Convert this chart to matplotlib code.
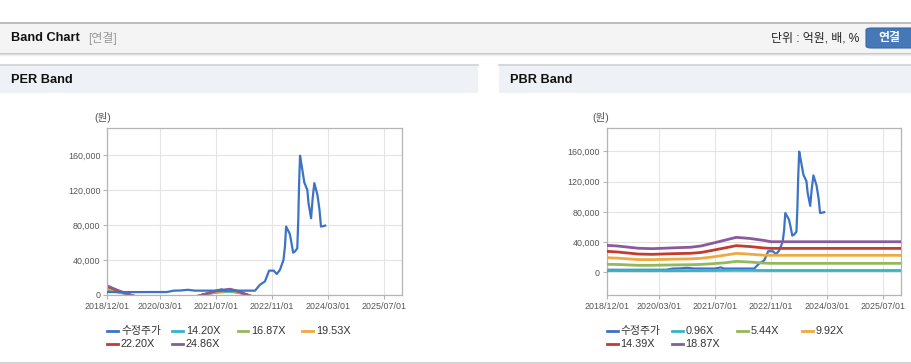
import numpy as np
import pandas as pd
import matplotlib
matplotlib.use('Agg')
import matplotlib.pyplot as plt
import matplotlib.dates as mdates
from matplotlib.patches import Rectangle, FancyBboxPatch
from matplotlib.lines import Line2D
from matplotlib.ticker import FuncFormatter

plt.rcParams['font.family'] = ['Liberation Sans', 'Noto Sans CJK KR', 'DejaVu Sans']

W, H = 912, 364

# 수정주가 (adjusted price)
price_dates = ['2018-12-01', '2019-06-01', '2019-12-01', '2020-05-01', '2020-07-01',
               '2020-09-01', '2020-11-01', '2021-01-01', '2021-07-01', '2021-08-20',
               '2021-09-15', '2022-06-07', '2022-07-20', '2022-09-01', '2022-10-07',
               '2022-11-15', '2022-12-13', '2023-01-10', '2023-02-09', '2023-02-22',
               '2023-03-04', '2023-04-05', '2023-04-20', '2023-05-04', '2023-05-20',
               '2023-06-09', '2023-06-18', '2023-06-24', '2023-07-03', '2023-07-16',
               '2023-08-09', '2023-09-04', '2023-09-15', '2023-10-07', '2023-10-20',
               '2023-11-04', '2023-12-01', '2023-12-19', '2024-01-01', '2024-01-22',
               '2024-02-06']
price = [3400, 3300, 3400, 3400, 5000,
         5200, 6000, 5000, 5000, 6500,
         5000, 5000, 11800, 15600, 27900,
         28000, 24100, 29000, 40200, 56000,
         78500, 70000, 59400, 48600, 50000,
         53600, 88000, 124000, 159700, 149300,
         129000, 120600, 105000, 88000, 110000,
         128300, 114900, 97600, 78500, 79000,
         79600]

# PER band (values below zero are out of view)
per_dates = ['2018-12-01', '2019-03-01', '2019-07-01', '2019-10-01', '2020-12-01',
             '2021-03-01', '2021-07-01', '2021-11-01', '2022-01-15', '2022-04-15',
             '2022-08-01', '2025-12-31']
per_labels = ['14.20X', '16.87X', '19.53X', '22.20X', '24.86X']
per_1420 = [6100, 3200, -200, -3000, -2500, 0, 2800, 3900, 2500, -300, -4000, -4000]
per_1687 = [7300, 3800, -300, -3600, -3000, 0, 3300, 4600, 3000, -400, -4700, -4700]
per_1953 = [8400, 4400, -300, -4100, -3400, 0, 3800, 5400, 3500, -400, -5500, -5500]
per_2220 = [9550, 5000, -400, -4700, -3900, 0, 4400, 6100, 3900, -500, -6200, -6200]
per_2486 = [10700, 5600, -400, -5200, -4400, 0, 4900, 6900, 4400, -500, -7000, -7000]

# PBR band
pbr_dates = ['2018-12-01', '2019-03-01', '2019-09-01', '2020-01-01', '2020-07-01',
             '2020-12-01', '2021-03-01', '2021-06-01', '2021-10-01', '2022-01-01',
             '2022-05-01', '2022-09-01', '2022-11-01', '2025-12-31']
pbr_labels = ['0.96X', '5.44X', '9.92X', '14.39X', '18.87X']
pbr_096 = [2300, 2300, 2200, 2200, 2200, 2300, 2300, 2400, 2500, 2600, 2500, 2400, 2400, 2400]
pbr_544 = [10600, 10400, 9300, 9300, 9800, 10100, 10500, 11300, 12700, 14500, 13600, 12200, 11900, 11900]
pbr_992 = [19400, 18800, 16900, 16800, 17400, 17800, 18500, 20200, 22800, 25100, 24000, 22600, 22500, 22500]
pbr_1439 = [27800, 27000, 24200, 23800, 24700, 25200, 26300, 28900, 32500, 35300, 34100, 32200, 31700, 31700]
pbr_1887 = [35700, 34900, 31900, 31300, 32400, 33200, 34900, 38200, 42800, 46300, 44800, 42200, 40500, 40500]

price_color = '#3d73c5'
band_colors = ['#36b3c6', '#94b85a', '#eeaa42', '#c43b30', '#8a5a9e']

x_ticks = ['2018-12-01', '2020-03-01', '2021-07-01', '2022-11-01', '2024-03-01', '2025-07-01']


def fx(x):
    return x / W


def fy(y):
    return 1 - y / H


def rect(fig, x0, y0, x1, y1, color, z=0):
    fig.add_artist(Rectangle((fx(x0), fy(y1)), (x1 - x0) / W, (y1 - y0) / H,
                             transform=fig.transFigure, facecolor=color,
                             edgecolor='none', zorder=z))


def hline(fig, x0, x1, y, color, lw=1.0):
    fig.add_artist(Line2D([fx(x0), fx(x1)], [fy(y), fy(y)], transform=fig.transFigure,
                          color=color, lw=lw, zorder=1))


def setup_axes(ax, ymin, ymax):
    ax.set_xlim(pd.Timestamp('2018-12-01'), pd.Timestamp('2025-12-05'))
    ax.set_ylim(ymin, ymax)
    ax.set_xticks(pd.to_datetime(x_ticks))
    ax.xaxis.set_major_formatter(mdates.DateFormatter('%Y/%m/%d'))
    ax.set_yticks([0, 40000, 80000, 120000, 160000])
    ax.yaxis.set_major_formatter(FuncFormatter(lambda v, p: f'{v:,.0f}'))
    ax.grid(True, color='#e4e4e4', lw=0.8)
    ax.set_axisbelow(True)
    for s in ax.spines.values():
        s.set_color('#b4b4b4')
        s.set_linewidth(0.9)
    ax.tick_params(labelsize=6.4, colors='#b4b4b4', labelcolor='#555555', length=3,
                   width=0.8, pad=2)


def legend(fig, x0, y0, labels, colors):
    cols = [x0, x0 + 65, x0 + 130, x0 + 195]
    for i, (lab, c) in enumerate(zip(labels, colors)):
        cx = cols[i % 4]
        cy = y0 + (i // 4) * 13
        fig.add_artist(Line2D([fx(cx), fx(cx + 11)], [fy(cy), fy(cy)],
                              transform=fig.transFigure, color=c, lw=2.0))
        fig.text(fx(cx + 13.5), fy(cy), lab, fontsize=7.8, color='#333333',
                 ha='left', va='center')


fig = plt.figure(figsize=(W / 100, H / 100), dpi=100)
fig.patch.set_facecolor('white')

# header bar
rect(fig, 0, 22, W, 52, '#f4f4f4')
hline(fig, 0, W, 22.5, '#b4b4b4', 1.2)
hline(fig, 0, W, 52.5, '#c4c4c4', 1.0)
hline(fig, 0, W, 53.8, '#dcdcdc', 1.0)
hline(fig, 0, W, 55, '#eeeeee', 1.0)
fig.text(fx(11), fy(38), 'Band Chart', fontsize=9.2, fontweight='bold', color='#111111',
         ha='left', va='center')
fig.text(fx(88), fy(38.5), '[연결]', fontsize=8.6, color='#999999', ha='left', va='center')
fig.text(fx(859), fy(38.5), '단위 : 억원, 배, %', fontsize=8.6, color='#222222',
         ha='right', va='center')
fig.add_artist(FancyBboxPatch((fx(866), fy(48)), fx(60), 20 / H,
                              boxstyle='round,pad=0,rounding_size=0.006',
                              transform=fig.transFigure, facecolor='#4677b6',
                              edgecolor='#3a68a6', lw=0.8, zorder=2))
fig.text(fx(889), fy(38), '연결', fontsize=8.6, fontweight='bold', color='white',
         ha='center', va='center', zorder=3)

# panel headers
for x0, x1, title in [(0, 478, 'PER Band'), (499, W, 'PBR Band')]:
    rect(fig, x0, 64, x1, 93, '#eef1f6')
    hline(fig, x0, x1, 64.5, '#d2d2d2', 1.2)
    fig.text(fx(x0 + 11), fy(80), title, fontsize=9.2, fontweight='bold', color='#111111',
             ha='left', va='center')
hline(fig, 0, W, 362.5, '#d4d4d4', 1.5)

price_x = pd.to_datetime(price_dates)

# PER chart
ax1 = fig.add_axes([fx(107.3), fy(295), (402 - 107.3) / W, (295 - 128) / H])
setup_axes(ax1, 0, 191500)
ax1.plot(price_x, price, color=price_color, lw=1.6, zorder=3)
per_x = pd.to_datetime(per_dates)
for vals, c in zip([per_1420, per_1687, per_1953, per_2220, per_2486], band_colors):
    ax1.plot(per_x, vals, color=c, lw=1.7, zorder=2)
fig.text(fx(102.5), fy(118), '(원)', fontsize=7.6, color='#555555', ha='center', va='center')
legend(fig, 107.5, 330.7, ['수정주가'] + per_labels, [price_color] + band_colors)

# PBR chart
ax2 = fig.add_axes([fx(606.7), fy(295), (901 - 606.7) / W, (295 - 128) / H])
setup_axes(ax2, -30000, 191000)
ax2.plot(price_x, price, color=price_color, lw=1.6, zorder=2)
pbr_x = pd.to_datetime(pbr_dates)
for vals, c in zip([pbr_096, pbr_544, pbr_992, pbr_1439, pbr_1887], band_colors):
    ax2.plot(pbr_x, vals, color=c, lw=2.0, zorder=3)
fig.text(fx(601), fy(118), '(원)', fontsize=7.6, color='#555555', ha='center', va='center')
legend(fig, 606.7, 330.7, ['수정주가'] + pbr_labels, [price_color] + band_colors)

fig.savefig('out.png', dpi=100)
